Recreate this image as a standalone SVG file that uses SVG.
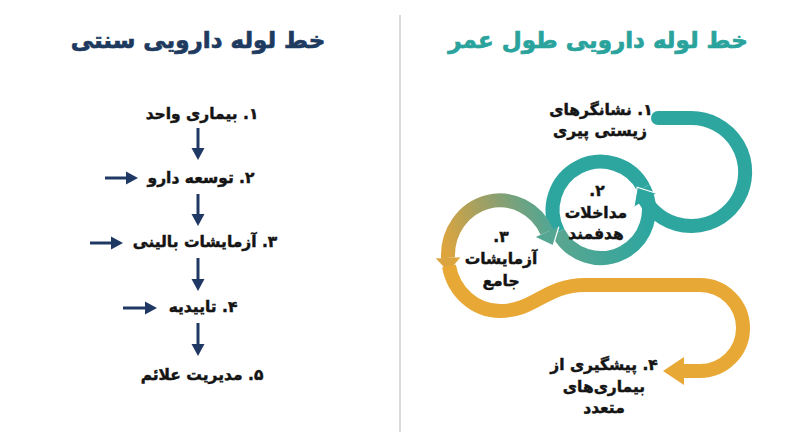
<svg xmlns="http://www.w3.org/2000/svg" width="800" height="447" viewBox="0 0 800 447">
  <style>
    .t { font-family: "DejaVu Sans", sans-serif; font-weight: bold; direction: rtl; text-anchor: middle; }
    .title-l { fill: #1e3a5f; stroke: #1e3a5f; stroke-width: 0.7; font-size: 23px; }
    .title-r { fill: #2aa39d; stroke: #2aa39d; stroke-width: 0.7; font-size: 23px; }
    .lab { fill: #141414; stroke: #141414; stroke-width: 0.45; font-size: 15.5px; }
    .nav { stroke: #1f3864; stroke-width: 3; fill: none; }
    .band { fill: none; stroke-width: 14; }
  </style>
  <defs>
    <marker id="mNavy" markerUnits="userSpaceOnUse" viewBox="0 -8 14 16" markerWidth="14" markerHeight="16" refX="0" refY="0" orient="auto">
      <path d="M0,-6.5 L12,0 L0,6.5 Z" fill="#1f3864"/>
    </marker>
    <marker id="mTeal" markerUnits="userSpaceOnUse" viewBox="-1 -15 18 30" markerWidth="18" markerHeight="30" refX="0" refY="0" orient="auto">
      <path d="M0,-13 L15,0 L0,13 Z" fill="#2ea6a0"/>
      <path d="M0,-13 L15,0 L0,13" fill="none" stroke="#fff" stroke-width="1.2"/>
    </marker>
    <marker id="mGreen" markerUnits="userSpaceOnUse" viewBox="-1 -15 18 30" markerWidth="18" markerHeight="30" refX="0" refY="0" orient="auto">
      <path d="M0,-13 L15,0 L0,13 Z" fill="#55a693"/>
      <path d="M0,-13 L15,0 L0,13" fill="none" stroke="#fff" stroke-width="1.2"/>
    </marker>
    <marker id="mOrangeS" markerUnits="userSpaceOnUse" viewBox="-1 -15 18 30" markerWidth="18" markerHeight="30" refX="0" refY="0" orient="auto-start-reverse">
      <path d="M0,-13 L15,0 L0,13 Z" fill="#dca43f"/>
      <path d="M0,-13 L15,0 L0,13" fill="none" stroke="#fff" stroke-width="1.2"/>
    </marker>
    <marker id="mOrange" markerUnits="userSpaceOnUse" viewBox="-1 -16 23 32" markerWidth="23" markerHeight="32" refX="0" refY="0" orient="auto">
      <path d="M0,-14 L21,0 L0,14 Z" fill="#e8a835"/>
    </marker>
    <linearGradient id="g3" gradientUnits="userSpaceOnUse" x1="552" y1="230" x2="448" y2="262">
      <stop offset="0" stop-color="#52a693"/>
      <stop offset="0.42" stop-color="#8e9f6e"/>
      <stop offset="1" stop-color="#dea53d"/>
    </linearGradient>
    <linearGradient id="g2" gradientUnits="userSpaceOnUse" x1="555" y1="240" x2="645" y2="220">
      <stop offset="0" stop-color="#5aa68f"/>
      <stop offset="1" stop-color="#2ea6a0"/>
    </linearGradient>
  </defs>

  <rect width="800" height="447" fill="#ffffff"/>
  <line x1="400" y1="15" x2="400" y2="432" stroke="#cfcfcf" stroke-width="1.5"/>

  <!-- Left column: traditional pipeline -->
  <g id="title-left"><text class="t title-l" x="198" y="48">خط لوله دارویی سنتی</text></g>
  <g id="l-step1"><text class="t lab" x="202" y="119">۱. بیماری واحد</text></g>
  <g id="l-step2"><text class="t lab" x="201" y="183">۲. توسعه دارو</text></g>
  <g id="l-step3"><text class="t lab" x="205" y="247">۳. آزمایشات بالینی</text></g>
  <g id="l-step4"><text class="t lab" x="203" y="312">۴. تاییدیه</text></g>
  <g id="l-step5"><text class="t lab" x="202" y="380">۵. مدیریت علائم</text></g>
  <g id="l-connectors">
    <line class="nav" x1="198" y1="128" x2="198" y2="148" marker-end="url(#mNavy)"/>
    <line class="nav" x1="198" y1="194" x2="198" y2="214" marker-end="url(#mNavy)"/>
    <line class="nav" x1="198" y1="258" x2="198" y2="279" marker-end="url(#mNavy)"/>
    <line class="nav" x1="198" y1="323" x2="198" y2="344" marker-end="url(#mNavy)"/>
    <line class="nav" x1="105" y1="178" x2="126" y2="178" marker-end="url(#mNavy)"/>
    <line class="nav" x1="90" y1="243" x2="111" y2="243" marker-end="url(#mNavy)"/>
    <line class="nav" x1="123" y1="308" x2="145" y2="308" marker-end="url(#mNavy)"/>
  </g>

  <!-- Right column: longevity pipeline -->
  <g id="title-right"><text class="t title-r" x="598" y="48">خط لوله دارویی طول عمر</text></g>
  <g id="r-connectors">
    <path class="band" stroke="url(#g2)" d="M558,232 A48,48 0 0 0 643.5,187.7"/>
    <path class="band" stroke="#2ea6a0" d="M643.5,187.7 A48,48 0 1 0 558,232"/>
    <path class="band" stroke="url(#g3)" d="M448,257.9 A52,55 0 0 1 547,232" marker-start="url(#mOrangeS)" marker-end="url(#mGreen)"/>
    <path class="band" stroke="#2ea6a0" stroke-linecap="round" d="M658,118 H691 A54,54 0 1 1 645,200" marker-end="url(#mTeal)"/>
    <path class="band" stroke="#e8a835" d="M449,266 A52,55 0 0 0 500,311 C535,311 545,285 585,285 H700 A43,43 0 0 1 700,371 H684" marker-end="url(#mOrange)"/>
  </g>
  <g id="r-step1">
    <text class="t lab" x="601" y="115">۱. نشانگرهای</text>
    <text class="t lab" x="600" y="136">زیستی پیری</text>
  </g>
  <g id="r-step2">
    <text class="t lab" x="597" y="196">۲.</text>
    <text class="t lab" x="596" y="218">مداخلات</text>
    <text class="t lab" x="596" y="239">هدفمند</text>
  </g>
  <g id="r-step3">
    <text class="t lab" x="501" y="242">۳.</text>
    <text class="t lab" x="501" y="264">آزمایشات</text>
    <text class="t lab" x="501" y="286">جامع</text>
  </g>
  <g id="r-step4">
    <text class="t lab" x="604" y="370">۴. پیشگیری از</text>
    <text class="t lab" x="604" y="392">بیماری‌های</text>
    <text class="t lab" x="604" y="413">متعدد</text>
  </g>
</svg>
